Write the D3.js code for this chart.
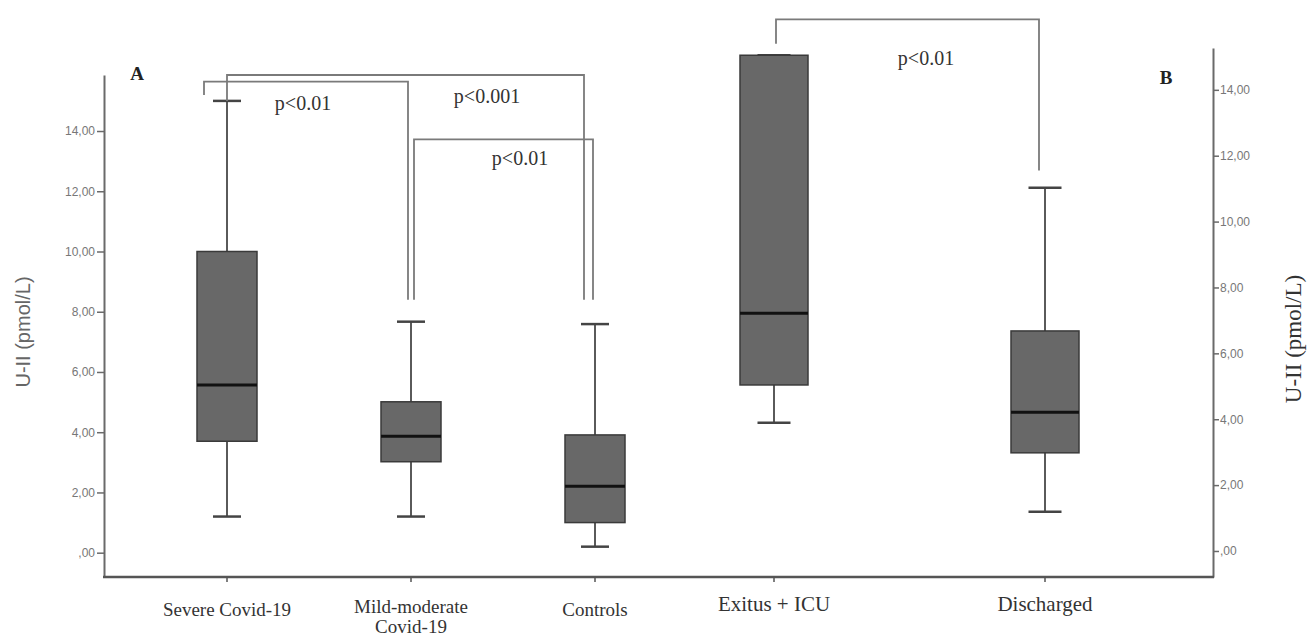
<!DOCTYPE html>
<html>
<head>
<meta charset="utf-8">
<script src="https://cdn.jsdelivr.net/npm/d3@7"></script>
<style>
  body { margin: 0; background: #fff; }
  svg { display: block; }
</style>
</head>
<body>
<div id="main"></div>
<script>
// ---- data ----
const groupsA = ["Severe Covid-19", "Mild-moderate|Covid-19", "Controls"];
const lowA    = [1.2, 1.2, 0.2];
const q1A     = [3.7, 3.02, 1.0];
const medA    = [5.57, 3.87, 2.21];
const q3A     = [10.0, 5.01, 3.91];
const highA   = [15.0, 7.67, 7.59];

const groupsB = ["Exitus + ICU", "Discharged"];
const lowB    = [3.89, 1.19];
const q1B     = [5.04, 2.98];
const medB    = [7.22, 4.21];
const q3B     = [15.05, 6.68];
const highB   = [15.05, 11.03];

const tickValues = [0, 2, 4, 6, 8, 10, 12, 14];
const axisTitle = "U-II (pmol/L)";

// significance brackets: groups joined, level of the bar, where the legs stop, label
const bracketsA = [
  {from: 0, to: 2, level: 15.86, endFrom: 15.0, endTo: 8.4, label: "p<0.001"},
  {from: 0, to: 1, level: 15.64, endFrom: 15.2, endTo: 8.4, label: "p<0.01"},
  {from: 1, to: 2, level: 13.72, endFrom: 8.4, endTo: 8.4, label: "p<0.01"}
];
const bracketsB = [
  {from: 0, to: 1, level: 16.14, endFrom: 15.4, endTo: 11.55, label: "p<0.01"}
];

// ---- layout ----
const ctx = {
  width: 1308,
  height: 642,
  axisBottom: 577,
  leftX: 104,
  rightX: 1213,
  boxFill: "#686868",
  boxStroke: "#3a3a3a",
  whisker: "#5a5a5a",
  axisColor: "#6a6a6a",
  bracketColor: "#7a7a7a",
  serif: "Liberation Serif, Times New Roman, serif",
  sans: "Liberation Sans, Arial, sans-serif"
};

// small pixel nudges of bracket legs relative to the box centres [from, to]
const bracketNudgeA = [[0, -11], [-23, -3], [3, -2]];
const bracketNudgeB = [[2, -6]];
// label anchor (x in px, y offset in px below bar)
const bracketLabelA = [[487, 28], [303, 28], [520, 26]];
const bracketLabelB = [[926, 46]];

function fmt(v){
  let s = d3.format(".2f")(v).replace(".", ",");
  if (s.startsWith("0,")) s = s.slice(1);
  return s;
}

function createViz(){
  let svg = d3.select("#main").append("svg")
    .attr("width", ctx.width)
    .attr("height", ctx.height);
  svg.append("rect").attr("width", ctx.width).attr("height", ctx.height).attr("fill", "#fff");

  let yA = d3.scaleLinear().domain([-0.807, 15.86]).range([ctx.axisBottom, 75]);
  let yB = d3.scaleLinear().domain([-0.79, 15.27]).range([ctx.axisBottom, 48]);
  let xA = d3.scalePoint().domain(groupsA).range([227, 595]);
  let xB = d3.scalePoint().domain(groupsB).range([774, 1045]);

  // left axis
  let axisLeft = svg.append("g")
    .attr("transform", "translate(" + ctx.leftX + ",0)")
    .call(d3.axisLeft(yA).tickValues(tickValues).tickFormat(fmt).tickSize(7).tickSizeOuter(0));
  axisLeft.select(".domain").attr("stroke", ctx.axisColor).attr("stroke-width", 2);
  axisLeft.selectAll(".tick line").attr("stroke", ctx.axisColor).attr("stroke-width", 1.5);
  axisLeft.selectAll(".tick text")
    .attr("font-family", ctx.sans)
    .attr("font-size", 12).attr("fill", "#777").attr("dx", 1);

  // right axis
  let axisRight = svg.append("g")
    .attr("transform", "translate(" + ctx.rightX + ",0)")
    .call(d3.axisRight(yB).tickValues(tickValues).tickFormat(fmt).tickSize(6).tickSizeOuter(0));
  axisRight.select(".domain").attr("stroke", ctx.axisColor).attr("stroke-width", 2);
  axisRight.selectAll(".tick line").attr("stroke", ctx.axisColor).attr("stroke-width", 1.5);
  axisRight.selectAll(".tick text")
    .attr("font-family", ctx.sans)
    .attr("font-size", 12).attr("fill", "#777").attr("dx", -2);

  // bottom axis line with category ticks
  svg.append("line")
    .attr("x1", ctx.leftX - 1).attr("x2", ctx.rightX + 1)
    .attr("y1", ctx.axisBottom).attr("y2", ctx.axisBottom)
    .attr("stroke", "#555").attr("stroke-width", 2.5);

  drawBoxes(svg, groupsA, xA, yA, lowA, q1A, medA, q3A, highA, 60, 28);
  drawBoxes(svg, groupsB, xB, yB, lowB, q1B, medB, q3B, highB, 68, 33);

  drawCategoryLabels(svg, groupsA, xA, 616, 19);
  drawCategoryLabels(svg, groupsB, xB, 611, 21);

  drawBrackets(svg, bracketsA, groupsA, xA, yA, bracketNudgeA, bracketLabelA);
  drawBrackets(svg, bracketsB, groupsB, xB, yB, bracketNudgeB, bracketLabelB);

  // panel letters
  svg.append("text").attr("x", 137).attr("y", 80).text("A")
    .attr("font-family", ctx.serif).attr("font-size", 19)
    .attr("font-weight", "bold").attr("fill", "#222").attr("text-anchor", "middle");
  svg.append("text").attr("x", 1166).attr("y", 84).text("B")
    .attr("font-family", ctx.serif).attr("font-size", 19)
    .attr("font-weight", "bold").attr("fill", "#222").attr("text-anchor", "middle");

  // axis titles
  svg.append("text")
    .attr("transform", "translate(23," + 332 + ") rotate(-90)")
    .attr("text-anchor", "middle").attr("dominant-baseline", "central")
    .attr("font-family", ctx.sans)
    .attr("font-size", 20).attr("fill", "#666")
    .text(axisTitle);
  svg.append("text")
    .attr("transform", "translate(1293," + 339 + ") rotate(-90)")
    .attr("text-anchor", "middle").attr("dominant-baseline", "central")
    .attr("font-family", ctx.serif)
    .attr("font-size", 23).attr("fill", "#333")
    .text(axisTitle);
}

function drawBoxes(svg, groups, x, y, low, q1, med, q3, high, boxW, capW){
  let g = svg.append("g");
  groups.forEach((name, i) => {
    let cx = x(name);
    // category tick on the bottom axis
    g.append("line").attr("x1", cx).attr("x2", cx)
      .attr("y1", ctx.axisBottom).attr("y2", ctx.axisBottom + 5)
      .attr("stroke", "#555").attr("stroke-width", 1.5);
    // whisker
    g.append("line").attr("x1", cx).attr("x2", cx)
      .attr("y1", y(low[i])).attr("y2", y(high[i]))
      .attr("stroke", ctx.whisker).attr("stroke-width", 2);
    [low[i], high[i]].forEach(v => {
      g.append("line").attr("x1", cx - capW / 2).attr("x2", cx + capW / 2)
        .attr("y1", y(v)).attr("y2", y(v))
        .attr("stroke", "#444").attr("stroke-width", 2.5);
    });
    // box
    g.append("rect")
      .attr("x", cx - boxW / 2).attr("y", y(q3[i]))
      .attr("width", boxW).attr("height", y(q1[i]) - y(q3[i]))
      .attr("fill", ctx.boxFill).attr("stroke", ctx.boxStroke).attr("stroke-width", 1.5);
    // median
    g.append("line").attr("x1", cx - boxW / 2).attr("x2", cx + boxW / 2)
      .attr("y1", y(med[i])).attr("y2", y(med[i]))
      .attr("stroke", "#111").attr("stroke-width", 3);
  });
}

function drawCategoryLabels(svg, groups, x, baseY, size){
  groups.forEach(name => {
    let lines = name.split("|");
    let t = svg.append("text")
      .attr("x", x(name)).attr("y", baseY - (lines.length > 1 ? 3 : 0))
      .attr("text-anchor", "middle")
      .attr("font-family", ctx.serif)
      .attr("font-size", size).attr("fill", "#333");
    lines.forEach((ln, k) => {
      t.append("tspan").attr("x", x(name)).attr("dy", k === 0 ? 0 : 20).text(ln);
    });
  });
}

function drawBrackets(svg, brackets, groups, x, y, nudges, labels){
  let g = svg.append("g");
  brackets.forEach((b, i) => {
    let x1 = x(groups[b.from]) + nudges[i][0];
    let x2 = x(groups[b.to]) + nudges[i][1];
    let yl = y(b.level);
    g.append("path")
      .attr("d", "M" + x1 + "," + y(b.endFrom) + "V" + yl + "H" + x2 + "V" + y(b.endTo))
      .attr("fill", "none").attr("stroke", ctx.bracketColor).attr("stroke-width", 1.8);
    g.append("text")
      .attr("x", labels[i][0]).attr("y", yl + labels[i][1])
      .attr("text-anchor", "middle")
      .attr("font-family", ctx.serif)
      .attr("font-size", 20).attr("fill", "#333")
      .text(b.label);
  });
}

createViz();
</script>
</body>
</html>
